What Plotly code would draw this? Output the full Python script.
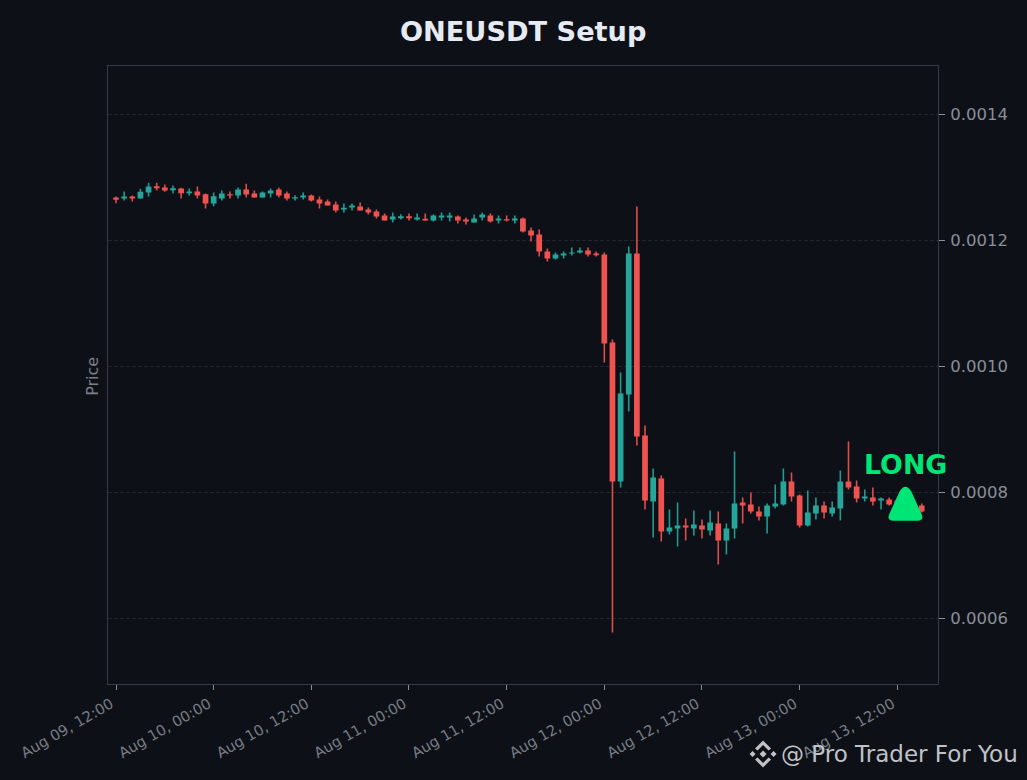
import pandas as pd
import plotly.graph_objects as go

# prices, in units of 1e-7 USDT
opens = [12683, 12667, 12698, 12667, 12762, 12862, 12841, 12798, 12825, 12751,
         12778, 12735, 12587, 12667, 12735, 12714, 12810, 12746, 12683, 12746,
         12810, 12746, 12667, 12683, 12714, 12651, 12619, 12571, 12492, 12524,
         12540, 12492, 12460, 12397, 12333, 12354, 12386, 12333, 12344, 12317,
         12365, 12365, 12381, 12333, 12286, 12365, 12397, 12317, 12338, 12317,
         12349, 12159, 12095, 11825, 11714, 11762, 11794, 11810, 11841, 11794,
         11778, 10381, 8175, 9556, 11794, 8905, 7857, 8222, 7381, 7429,
         7476, 7429, 7476, 7397, 7508, 7238, 7429, 7841, 7810, 7698,
         7619, 7778, 7810, 8175, 7952, 7476, 7667, 7794, 7667, 7746,
         8175, 8095, 7905, 7921, 7873, 7889, 7873, 7841, 7825, 7794]
closes = [12646, 12698, 12667, 12773, 12857, 12830, 12794, 12830, 12751, 12778,
          12714, 12587, 12703, 12746, 12714, 12810, 12730, 12683, 12762, 12794,
          12714, 12667, 12687, 12714, 12635, 12587, 12556, 12476, 12519, 12556,
          12476, 12444, 12381, 12317, 12381, 12386, 12354, 12365, 12317, 12397,
          12397, 12397, 12317, 12302, 12349, 12413, 12302, 12349, 12317, 12349,
          12143, 12079, 11825, 11714, 11778, 11794, 11810, 11841, 11778, 11767,
          10365, 8175, 9571, 11794, 8889, 7873, 8238, 7381, 7444, 7476,
          7444, 7492, 7413, 7524, 7238, 7429, 7825, 7794, 7698, 7619,
          7794, 7825, 8175, 7937, 7476, 7683, 7794, 7683, 7762, 8175,
          8079, 7905, 7937, 7857, 7905, 7810, 7794, 7778, 7762, 7698]
highs = [12698, 12778, 12714, 12820, 12916, 12916, 12889, 12873, 12836, 12825,
         12857, 12746, 12762, 12794, 12778, 12841, 12900, 12794, 12778, 12825,
         12841, 12778, 12719, 12762, 12730, 12698, 12651, 12619, 12587, 12587,
         12603, 12524, 12492, 12429, 12444, 12417, 12429, 12429, 12429, 12413,
         12444, 12444, 12397, 12365, 12413, 12444, 12429, 12397, 12397, 12397,
         12365, 12206, 12175, 11873, 11810, 11825, 11889, 11889, 11889, 11825,
         11810, 10429, 9905, 11905, 12540, 9063, 8381, 8270, 7730, 7841,
         7587, 7714, 7571, 7714, 7698, 7508, 8651, 7921, 8000, 7778,
         7825, 8127, 8381, 8317, 7968, 8032, 7921, 7857, 7857, 8349,
         8810, 8190, 8048, 8079, 7921, 7921, 7905, 7873, 7857, 7825]
lows = [12592, 12635, 12619, 12667, 12698, 12794, 12773, 12746, 12667, 12714,
        12667, 12508, 12544, 12635, 12667, 12667, 12683, 12683, 12683, 12683,
        12683, 12635, 12635, 12651, 12619, 12508, 12556, 12444, 12444, 12476,
        12476, 12413, 12349, 12317, 12286, 12333, 12317, 12317, 12317, 12302,
        12317, 12302, 12270, 12254, 12286, 12317, 12286, 12270, 12302, 12270,
        12127, 11984, 11746, 11667, 11698, 11714, 11762, 11794, 11746, 11746,
        10063, 5778, 8079, 9286, 8746, 7730, 7286, 7222, 7333, 7143,
        7238, 7317, 7270, 7317, 6857, 7016, 7270, 7508, 7667, 7556,
        7349, 7746, 7794, 7857, 7444, 7460, 7571, 7587, 7619, 7556,
        8048, 7841, 7857, 7794, 7730, 7794, 7762, 7730, 7714, 7683]

y_ticks = [0.0006, 0.0008, 0.0010, 0.0012, 0.0014]
signal_index = 97
signal_price = 0.000779

UNIT = 1e-7
BG = "#0d1117"
TEXT_GREY = "#8a8e97"
FRAME = "#363a42"
HOUR_MS = 3600000
GREEN = "#26a69a"
RED = "#ef5350"

tempos = pd.date_range("2025-08-09 12:00", periods=len(opens), freq="h")

fig = go.Figure()

# pavios separados, o candlestick usa a mesma espessura para pavio e corpo
for subiu, cor in [(True, GREEN), (False, RED)]:
    wick_x, wick_y = [], []
    for i in range(len(opens)):
        if (closes[i] > opens[i]) == subiu:
            wick_x += [tempos[i], tempos[i], None]
            wick_y += [lows[i] * UNIT, highs[i] * UNIT, None]
    fig.add_trace(go.Scatter(x=wick_x, y=wick_y, mode="lines", line=dict(color=cor, width=1.6),
                             opacity=0.92, hoverinfo="skip", showlegend=False))

fig.add_trace(go.Candlestick(
    x=tempos,
    open=[v * UNIT for v in opens],
    high=[v * UNIT for v in highs],
    low=[v * UNIT for v in lows],
    close=[v * UNIT for v in closes],
    increasing=dict(line=dict(color=GREEN, width=0), fillcolor=GREEN),
    decreasing=dict(line=dict(color=RED, width=0), fillcolor=RED),
    showlegend=False,
))

fig.update_layout(
    width=1027,
    height=780,
    margin=dict(l=108, r=89, t=66, b=96, autoexpand=False),
    paper_bgcolor=BG,
    plot_bgcolor=BG,
    boxgap=0,
    font=dict(family="DejaVu Sans", color=TEXT_GREY),
    title=dict(text="<b>ONEUSDT Setup</b>", x=0.5094, xanchor="center", y=0.960, yanchor="middle",
               font=dict(size=27.2, color="#e6eaf2", family="DejaVu Sans")),
    showlegend=False,
    xaxis=dict(
        type="date",
        rangeslider=dict(visible=False),
        range=[tempos[0] - pd.Timedelta(minutes=59), tempos[0] + pd.Timedelta(minutes=6060)],
        tick0=tempos[0],
        dtick=12 * HOUR_MS,
        tickformat="%b %d, %H:%M",
        tickangle=-30,
        ticklabelshift=-5,
        tickfont=dict(size=14.7, color="#787c85"),
        ticks="outside",
        ticklen=5,
        tickcolor="#8a8e97",
        showgrid=False,
        showline=True,
        linecolor=FRAME,
        mirror=True,
        zeroline=False,
    ),
    yaxis=dict(
        side="right",
        range=[0.000496, 0.001477],
        tickvals=y_ticks,
        tickformat=".4f",
        ticklabelstandoff=2,
        tickfont=dict(size=16.5, color=TEXT_GREY),
        ticks="outside",
        ticklen=6,
        tickcolor="#8a8e97",
        showgrid=True,
        gridcolor="#20242b",
        griddash="4px,2px",
        gridwidth=1,
        showline=True,
        linecolor=FRAME,
        mirror=True,
        zeroline=False,
    ),
)

fig.add_annotation(text="Price", xref="paper", yref="paper", x=-0.032, y=0.4985, textangle=-90,
                   showarrow=False, font=dict(size=16, color="#7a7e87"))
fig.add_annotation(text="<b>LONG</b>", x=tempos[signal_index], y=signal_price, yshift=41,
                   showarrow=False, font=dict(size=26.8, color="#00e676"))

# triangulo do sinal, ancorado no preco
fig.add_shape(type="path", xref="x", yref="y", xsizemode="pixel", ysizemode="pixel",
              xanchor=tempos[signal_index], yanchor=signal_price,
              path="M -12 -15 L 12 -15 Q 19 -15 16 -8 L 6 14 Q 0 24 -6 14 L -16 -8 Q -19 -15 -12 -15 Z",
              fillcolor="#00e676", line=dict(width=0))

# marca d'agua
fig.add_annotation(text="@ Pro Trader For You", xref="paper", yref="paper", x=1.0989, y=-0.1130,
                   xanchor="right", yanchor="middle", showarrow=False,
                   font=dict(size=23, color="#c0c2c6"))
logo = [
    "M 0 3.5 L 3.5 0 L 0 -3.5 L -3.5 0 Z",
    "M -10.5 3 L -7.5 0 L -10.5 -3 L -13.5 0 Z",
    "M 10.5 3 L 13.5 0 L 10.5 -3 L 7.5 0 Z",
    "M 0 13.5 L 8 5.5 L 5.5 3.5 L 0 9 L -5.5 3.5 L -8 5.5 Z",
    "M 0 -13.5 L 8 -5.5 L 5.5 -3.5 L 0 -9 L -5.5 -3.5 L -8 -5.5 Z",
]
for p in logo:
    fig.add_shape(type="path", xref="paper", yref="paper", xsizemode="pixel", ysizemode="pixel",
                  xanchor=0.7892, yanchor=-0.1133, path=p, fillcolor="#c0c2c6", line=dict(width=0))

fig.write_html("out.html", config=dict(displayModeBar=False),
               post_script="document.body.style.margin='0';")
